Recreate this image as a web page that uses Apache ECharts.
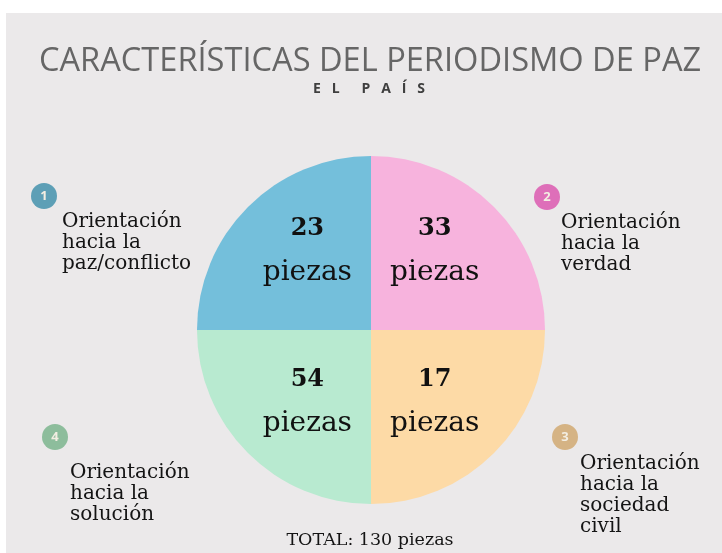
<!DOCTYPE html>
<html>
<head>
<meta charset="utf-8">
<script src="https://cdn.jsdelivr.net/npm/echarts@6/dist/echarts.min.js"></script>
<style>
  html, body { margin: 0; padding: 0; background: #ffffff; }
  #chart { width: 722px; height: 553px; }
</style>
</head>
<body>
<div id="chart"></div>
<script>
// categories, in order clockwise from the top-left quadrant
const categories = [
  'Orientación\nhacia la\npaz/conflicto',
  'Orientación\nhacia la\nverdad',
  'Orientación\nhacia la\nsociedad\ncivil',
  'Orientación\nhacia la\nsolución'
]
const badgeNumbers = ['1', '2', '3', '4']
const counts = [23, 33, 17, 54]
// the slices are drawn as equal quarters in the original
const sliceShare = [1, 1, 1, 1]
const total = 130

const SLICE_COLORS = ['#74bfdb', '#f7b3dd', '#fddaa6', '#b8ead0']
const BADGE_COLORS = ['#5d9fb6', '#de6fb9', '#d5b384', '#8dbd9c']
const SERIF = '"DejaVu Serif", serif'

// where each annotation sits: badge centre, text left/top
const annot = [
  { bx: 44, by: 196, tx: 62, ty: 211 },
  { bx: 547, by: 197, tx: 561, ty: 212 },
  { bx: 565, by: 437, tx: 580, ty: 453 },
  { bx: 55, by: 437, tx: 70, ty: 462 }
]

const chart = echarts.init(document.getElementById('chart'))

const graphics = [
  {
    type: 'rect',
    z: -10,
    shape: { x: 6, y: 13, width: 716, height: 540 },
    style: { fill: '#ebe9ea' }
  },
  {
    type: 'text',
    x: 369,
    y: 89,
    style: {
      text: 'E   L      P   A   Í   S',
      fill: '#3f3f3f',
      font: 'bold 14px "Open Sans", sans-serif',
      align: 'center',
      verticalAlign: 'middle'
    }
  }
]
categories.forEach((name, i) => {
  const a = annot[i]
  graphics.push({
    type: 'circle',
    shape: { cx: a.bx, cy: a.by, r: 13 },
    style: { fill: BADGE_COLORS[i] }
  })
  graphics.push({
    type: 'text',
    x: a.bx,
    y: a.by,
    style: {
      text: badgeNumbers[i],
      fill: '#f3eee2',
      font: 'bold 13px "Open Sans", sans-serif',
      align: 'center',
      verticalAlign: 'middle'
    }
  })
  graphics.push({
    type: 'text',
    x: a.tx,
    y: a.ty,
    style: {
      text: name,
      fill: '#141414',
      font: '20px ' + SERIF,
      lineHeight: 21,
      align: 'left',
      verticalAlign: 'top'
    }
  })
})
graphics.push({
  type: 'text',
  x: 370,
  y: 540,
  style: {
    text: 'TOTAL: ' + total + ' piezas',
    fill: '#141414',
    font: '17.5px ' + SERIF,
    align: 'center',
    verticalAlign: 'middle'
  }
})

chart.setOption({
  backgroundColor: '#ffffff',
  animation: false,
  title: {
    text: 'CARACTERÍSTICAS DEL PERIODISMO DE PAZ',
    left: 34,
    top: 40,
    textStyle: {
      color: '#666666',
      fontFamily: '"Open Sans", sans-serif',
      fontWeight: 'normal',
      fontSize: 32.6
    }
  },
  graphic: graphics,
  series: [
    {
      type: 'pie',
      center: [371, 330],
      radius: [0, 174],
      startAngle: 180,
      clockwise: true,
      silent: true,
      data: sliceShare.map((v, i) => ({
        value: v,
        name: categories[i],
        itemStyle: { color: SLICE_COLORS[i] },
        label: { padding: i < 2 ? [0, 0, 34, 0] : [14, 0, 0, 0] }
      })),
      label: {
        position: 'inside',
        formatter: p => '{n|' + counts[p.dataIndex] + '}\n{p|piezas}',
        rich: {
          n: { fontFamily: SERIF, fontWeight: 'bold', fontSize: 24, color: '#111', lineHeight: 46 },
          p: { fontFamily: SERIF, fontSize: 28, color: '#111', lineHeight: 42 }
        }
      },
      labelLine: { show: false }
    }
  ]
})
</script>
</body>
</html>
